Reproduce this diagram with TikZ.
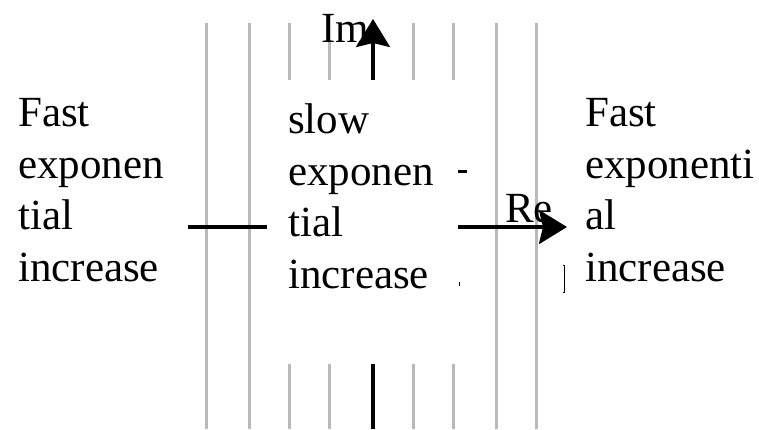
\documentclass[tikz,border=0pt]{standalone}
\usepackage{fontspec}
\setmainfont{Liberation Serif}
\usetikzlibrary{arrows.meta}
\definecolor{gridgray}{RGB}{185,185,185}
\tikzset{
  gridline/.style={draw=gridgray, line width=3pt},
  axisline/.style={draw=black, line width=3.4pt},
  axistip/.style={-{Stealth[length=28pt,width=34pt,inset=4pt]}},
  bigtext/.style={font=\fontsize{43}{51.5}\selectfont, align=left, inner sep=0pt, anchor=north west},
  axislabel/.style={font=\fontsize{43}{51.5}\selectfont, inner sep=0pt, anchor=base west},
  remnant/.style={fill=black, draw=none}
}
\begin{document}
\begin{tikzpicture}[x=1pt,y=-1pt]
\useasboundingbox (0,0) rectangle (759,429);
% vertical grid lines
\foreach \gx/\nm in {206/ga,249/gb,289/gc,329/gd,413/ge,453/gf,496/gg,536/gh}{
  \coordinate (\nm t) at (\gx,23);
  \coordinate (\nm b) at (\gx,429);
  \draw[gridline] (\nm t) -- (\nm b);
}
% white middle box hiding the lines
\node[fill=white, draw=none, inner sep=0pt, minimum width=191pt, minimum height=284pt] (midbox) at (362.5,222) {};
% axes end points
\coordinate (reL) at (188,227);
\coordinate (reR) at (567,227);
\coordinate (imB) at (373,429);
\coordinate (imT) at (373,19);
% Im label (white backed)
\node[axislabel, fill=white] (imlab) at (321,42) {Im};
\node[axislabel] (relab) at (505,222) {Re};
% axes
\draw[axisline] (reL) -- (midbox.west |- reL);
\draw[axisline, axistip] (midbox.east |- reR) -- (reR);
\draw[axisline] (imB) -- (midbox.south -| imB);
\draw[axisline, axistip] (midbox.north -| imT) -- (imT);
% texts
\node[bigtext] (lefttext) at (18,98.5) {Fast\\exponen\\tial\\increase};
\node[bigtext] (midtext) at (288,103.6) {slow\\exponen\\tial\\increase};
\node[bigtext] (righttext) at (585,98.5) {Fast\\exponenti\\al\\increase};
% small partially hidden marks
\fill[remnant] (458,169.5) rectangle (467,172.5);
\fill[remnant] (458.5,282) rectangle (460,285.5);
\draw[black, line width=0.8pt] (563,265) -- (564.5,265) -- (564.5,292) -- (563,292);
\end{tikzpicture}
\end{document}
